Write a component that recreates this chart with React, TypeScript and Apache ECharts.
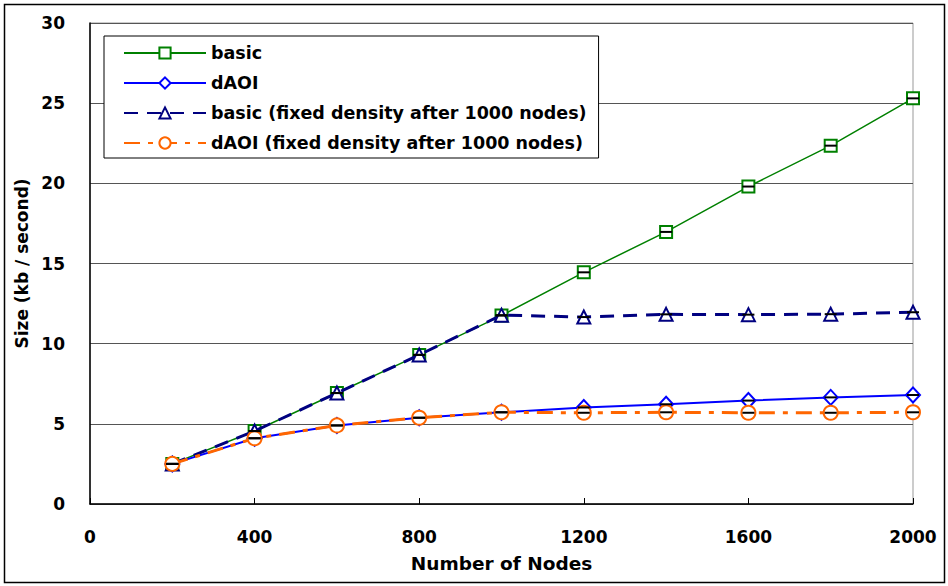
import React, { useEffect, useRef } from "react";
import * as echarts from "echarts";

const nodes = [200, 400, 600, 800, 1000, 1200, 1400, 1600, 1800, 2000];
const basic = [2.5, 4.55, 6.92, 9.3, 11.75, 14.45, 16.97, 19.8, 22.35, 25.3];
const dAOI = [2.5, 4.1, 4.9, 5.38, 5.72, 6.02, 6.22, 6.45, 6.65, 6.8];
const basicFixed = [2.5, 4.55, 6.92, 9.3, 11.78, 11.66, 11.83, 11.81, 11.84, 11.96];
const dAOIFixed = [2.5, 4.1, 4.9, 5.38, 5.72, 5.69, 5.72, 5.69, 5.69, 5.72];
const seriesNames = [
  "basic",
  "dAOI",
  "basic (fixed density after 1000 nodes)",
  "dAOI (fixed density after 1000 nodes)",
];
const yTicks = { min: 0, max: 30, interval: 5 };
const xTicks = { min: 0, max: 2000, interval: 400 };

const FONT = '"DejaVu Sans", Arial, sans-serif';

export default function App() {
  const ref = useRef<HTMLDivElement>(null);
  useEffect(() => {
    if (!ref.current) return;
    const chart = echarts.init(ref.current, undefined, { renderer: "svg" });
    const pts = (arr: number[]) => nodes.map((x, i) => [x, arr[i]]);
    const errData = [basic, dAOI, basicFixed, dAOIFixed].flatMap((a) => pts(a));
    chart.setOption({
      animation: false,
      backgroundColor: "#fff",
      textStyle: { fontFamily: FONT },
      grid: {
        left: 90,
        right: 35,
        top: 23,
        bottom: 82,
        show: true,
        borderColor: "#999",
        borderWidth: 1,
      },
      legend: {
        orient: "vertical",
        left: 104,
        top: 36,
        data: seriesNames,
        itemWidth: 82,
        itemHeight: 14,
        itemGap: 10,
        padding: [7, 12, 5, 19],
        borderColor: "#000",
        borderWidth: 1,
        backgroundColor: "#fff",
        selectedMode: false,
        textStyle: {
          fontFamily: FONT,
          fontSize: 17.5,
          fontWeight: "bold",
          color: "#000",
          lineHeight: 20,
        },
      },
      xAxis: {
        type: "value",
        ...xTicks,
        name: "Number of Nodes",
        nameLocation: "middle",
        nameGap: 50,
        nameTextStyle: { fontFamily: FONT, fontSize: 18.5, fontWeight: "bold", color: "#000" },
        axisLine: { show: true, lineStyle: { color: "#000", width: 1.5 } },
        axisTick: { show: true, inside: true, length: 6, lineStyle: { color: "#000" } },
        axisLabel: {
          fontFamily: FONT,
          fontSize: 17,
          fontWeight: "bold",
          color: "#000",
          margin: 24,
          formatter: (v: number) => String(v),
        },
        splitLine: { show: false },
      },
      yAxis: {
        type: "value",
        ...yTicks,
        name: "Size (kb / second)",
        nameLocation: "middle",
        nameGap: 52,
        nameTextStyle: { fontFamily: FONT, fontSize: 17, fontWeight: "bold", color: "#000" },
        axisLine: { show: true, lineStyle: { color: "#000", width: 1.5 } },
        axisTick: { show: false },
        axisLabel: { fontFamily: FONT, fontSize: 17, fontWeight: "bold", color: "#000", margin: 25 },
        splitLine: { show: true, lineStyle: { color: "#555", width: 1 } },
      },
      graphic: [
        {
          type: "rect",
          shape: { x: 4.5, y: 4.5, width: 940, height: 578 },
          style: { fill: "none", stroke: "#000", lineWidth: 1.5 },
          z: 100,
          silent: true,
        },
      ],
      series: [
        {
          name: seriesNames[0],
          type: "line",
          data: pts(basic),
          symbol: "rect",
          symbolSize: 12,
          itemStyle: { color: "#fff", borderColor: "#008000", borderWidth: 2 },
          lineStyle: { color: "#008000", width: 1.5 },
          color: "#008000",
          z: 2,
        },
        {
          name: seriesNames[1],
          type: "line",
          data: pts(dAOI),
          symbol: "diamond",
          symbolSize: [14, 15],
          itemStyle: { color: "#fff", borderColor: "#0000FF", borderWidth: 2 },
          lineStyle: { color: "#0000FF", width: 2 },
          color: "#0000FF",
          z: 3,
        },
        {
          name: seriesNames[2],
          type: "line",
          data: pts(basicFixed),
          symbol: "triangle",
          symbolSize: 13,
          itemStyle: { color: "#fff", borderColor: "#000080", borderWidth: 2 },
          lineStyle: { color: "#000080", width: 3, type: [14, 9] },
          color: "#000080",
          z: 4,
        },
        {
          name: seriesNames[3],
          type: "line",
          data: pts(dAOIFixed),
          symbol: "circle",
          symbolSize: 14,
          itemStyle: { color: "#fff", borderColor: "#FF6600", borderWidth: 2 },
          lineStyle: { color: "#FF6600", width: 3, type: [16, 8, 5, 8] },
          color: "#FF6600",
          z: 5,
        },
        {
          type: "custom",
          z: 10,
          silent: true,
          data: errData,
          renderItem: (params: any, api: any) => {
            const p = api.coord([api.value(0), api.value(1)]);
            return {
              type: "line",
              shape: { x1: p[0] - 6, y1: p[1], x2: p[0] + 6, y2: p[1] },
              style: { stroke: "#000", lineWidth: 2 },
            };
          },
        },
      ],
    });
    return () => chart.dispose();
  }, []);
  return (
    <div
      ref={ref}
      style={{ position: "fixed", left: 0, top: 0, width: 948, height: 586 }}
    />
  );
}
